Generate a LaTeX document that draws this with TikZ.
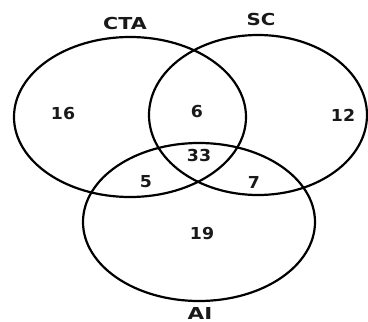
\documentclass[tikz,border=0pt]{standalone}
\usepackage{fontspec}
\setmainfont{DejaVu Sans}
\begin{document}
\begin{tikzpicture}[x=1pt,y=-1pt,
  setring/.style={draw=black,line width=2.2pt},
  lbl/.style={font=\bfseries\fontsize{16.5}{19}\selectfont,inner sep=0pt,text=black!90}]
\useasboundingbox (0,0) rectangle (368,322);
\draw[setring] (130,117) ellipse [x radius=116, y radius=80];
\draw[setring] (258,115) ellipse [x radius=109, y radius=80];
\draw[setring] (199,222) ellipse [x radius=116, y radius=79];
\node[lbl,xscale=1.25] (cta) at (125,23) {CTA};
\node[lbl,xscale=1.2] (sc) at (261,19) {SC};
\node[lbl,xscale=1.3] (ai) at (200,313.5) {AI};
\node[lbl,xscale=1.05] (n16) at (63,113) {16};
\node[lbl,xscale=1.05] (n6) at (197,111) {6};
\node[lbl,xscale=1.05] (n12) at (343,115) {12};
\node[lbl,xscale=1.05] (n33) at (199,155) {33};
\node[lbl,xscale=1.05] (n5) at (146,182) {5};
\node[lbl,xscale=1.05] (n7) at (254,182) {7};
\node[lbl,xscale=1.05] (n19) at (202,233) {19};
\end{tikzpicture}
\end{document}
